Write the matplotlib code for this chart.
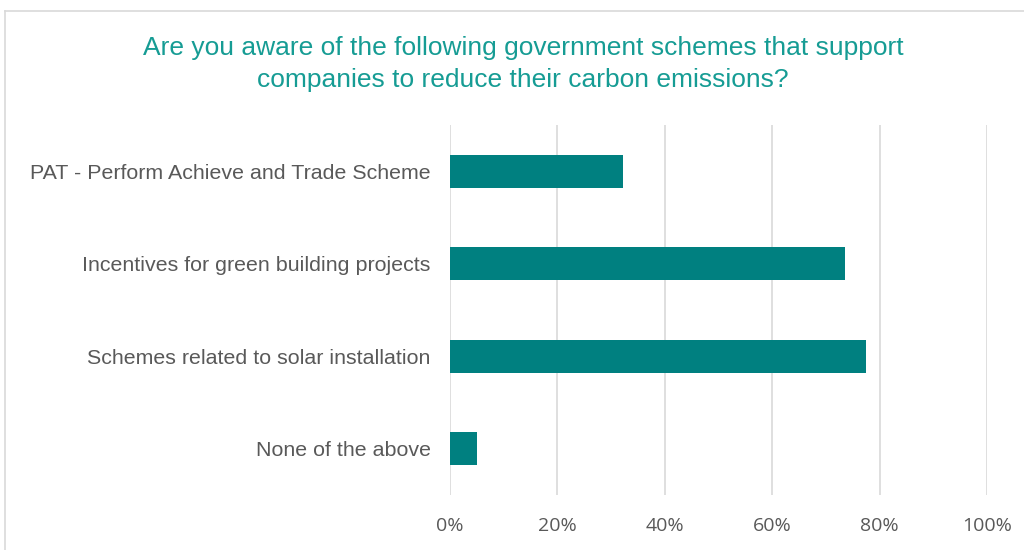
import matplotlib.pyplot as plt
from matplotlib.lines import Line2D

plt.rcParams['font.family'] = ['Liberation Sans', 'DejaVu Sans']

schemes = [
    "PAT - Perform Achieve and Trade Scheme",
    "Incentives for green building projects",
    "Schemes related to solar installation",
    "None of the above",
]
aware_pct = [32.2, 73.6, 77.4, 5.0]
ticks = [0, 20, 40, 60, 80, 100]

fig = plt.figure(figsize=(10.24, 5.5), dpi=100)
ax = fig.add_axes([450 / 1024, 1 - 495 / 550, 537 / 1024, 370 / 550])

ypos = list(range(len(schemes)))
ax.barh(ypos, aware_pct, height=0.36, color='#008080', zorder=3)
ax.set_ylim(len(schemes) - 0.5, -0.5)
ax.set_xlim(0, 100)
ax.set_yticks(ypos)
ax.set_yticklabels(schemes, fontsize=15.4, color='#595959')
ax.set_xticks(ticks)
ax.set_xticklabels([f"{t}%" for t in ticks], fontsize=14, color='#595959',
                   family=['Open Sans', 'DejaVu Sans'])
ax.tick_params(axis='both', length=0)
ax.tick_params(axis='y', pad=14)
ax.tick_params(axis='x', pad=16)
ax.grid(axis='x', color='#D9D9D9', linewidth=1.2, zorder=0)
for s in ax.spines.values():
    s.set_visible(False)

fig.text(0.511, 1 - 64 / 550,
         "Are you aware of the following government schemes that support\n"
         "companies to reduce their carbon emissions?",
         ha='center', va='center', fontsize=19, color='#169C94', linespacing=1.38)

# chart area outline (left and top edges)
fig.add_artist(Line2D([4.5 / 1024, 4.5 / 1024], [0, 1 - 11 / 550], color='#D9D9D9', lw=1.2))
fig.add_artist(Line2D([4.5 / 1024, 1], [1 - 11 / 550, 1 - 11 / 550], color='#D9D9D9', lw=1.2))

fig.savefig('out.png', dpi=100)
